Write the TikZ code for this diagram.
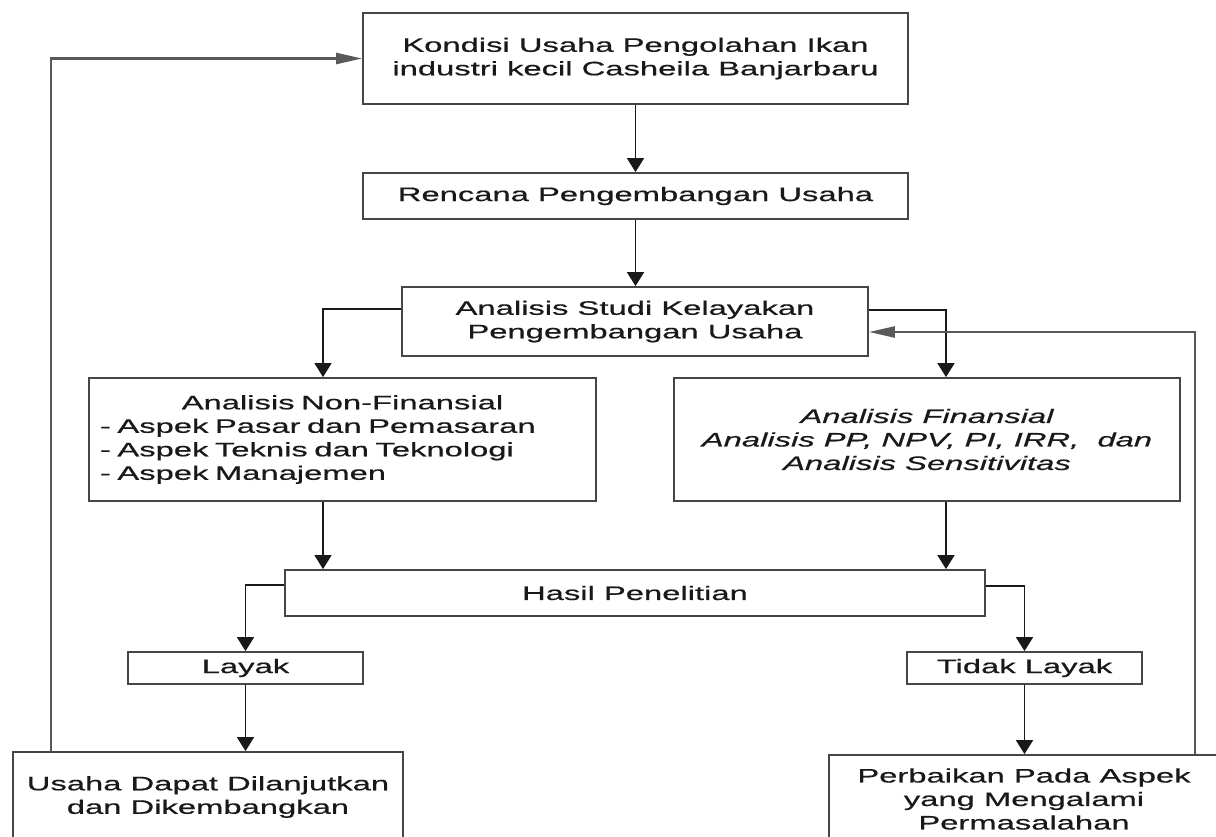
\documentclass[tikz,border=0pt]{standalone}
\usepackage{fontspec}
\newfontfamily\wide{Liberation Sans}[FakeStretch=1.68,FakeBold=0.6]
\usetikzlibrary{arrows.meta,calc}
\definecolor{boxline}{RGB}{70,70,70}
\definecolor{txt}{RGB}{25,25,25}
\tikzset{
 box/.style={draw=boxline, line width=1.8pt, fill=white, inner sep=0pt, align=center, text=txt},
 conn/.style={draw=black!90, line width=1.6pt},
 varr/.style={conn, -{Triangle[length=14pt,width=17pt]}},
 harr/.style={conn, -{Triangle[length=26pt,width=11pt]}},
 fbline/.style={draw=black!65, line width=2.4pt},
 fbarr/.style={fbline, -{Triangle[length=26pt,width=11pt]}}
}
\begin{document}
\begin{tikzpicture}[x=1pt,y=-1pt, font=\wide\fontsize{19.5}{23.5}\selectfont]
\useasboundingbox (0,0) rectangle (1216,836);
\clip (0,0) rectangle (1216,836);
\fill[white] (0,0) rectangle (1216,836);

\node[box, minimum width=545, minimum height=91] (top) at (635.5,58.5)
  {Kondisi Usaha Pengolahan Ikan\\industri kecil Casheila Banjarbaru};
\node[box, minimum width=545, minimum height=46] (ren) at (635.5,196)
  {Rencana Pengembangan Usaha};
\node[box, minimum width=466, minimum height=69] (studi) at (635,321.5)
  {Analisis Studi Kelayakan\\Pengembangan Usaha};
\node[box, minimum width=507, minimum height=123, text width=485, align=left] (nonfin) at (342.5,439.5)
  {\makebox[485pt]{Analisis Non-Finansial}\\- Aspek Pasar dan Pemasaran\\- Aspek Teknis dan Teknologi\\- Aspek Manajemen};
\node[box, minimum width=506, minimum height=123, font=\wide\itshape\fontsize{19.5}{23.5}\selectfont] (fin) at (927,439.5)
  {Analisis Finansial\\Analisis PP, NPV, PI, IRR, \ dan\\Analisis Sensitivitas};
\node[box, minimum width=700, minimum height=46] (hasil) at (635,593)
  {Hasil Penelitian};
\node[box, minimum width=235, minimum height=32] (layak) at (245.5,668)
  {Layak};
\node[box, minimum width=235, minimum height=32] (tidak) at (1024.5,668)
  {Tidak Layak};
\node[box, minimum width=390, minimum height=90] (usaha) at (208,797)
  {Usaha Dapat Dilanjutkan\\dan Dikembangkan};
\node[box, minimum width=390, minimum height=88] (perb) at (1024,799)
  {Perbaikan Pada Aspek\\yang Mengalami\\Permasalahan};

% main flow
\draw[varr] (top.south) -- (top.south |- ren.north);
\draw[varr] (ren.south) -- (ren.south |- studi.north);

\coordinate (sl) at ([yshift=12.5pt]studi.west);
\coordinate (sr) at ([yshift=11.5pt]studi.east);
\coordinate (nfin) at ([xshift=-19.5pt]nonfin.north);
\coordinate (fin_in) at ([xshift=19pt]fin.north);
\draw[varr] (sl) -| (nfin);
\draw[varr] (sr) -| (fin_in);

\coordinate (nfout) at ([xshift=-19.5pt]nonfin.south);
\coordinate (fout) at ([xshift=19pt]fin.south);
\draw[varr] (nfout) -- (nfout |- hasil.north);
\draw[varr] (fout) -- (fout |- hasil.north);

\coordinate (hl) at ([yshift=8pt]hasil.west);
\coordinate (hr) at ([yshift=7pt]hasil.east);
\draw[varr] (hl) -| (layak.north);
\draw[varr] (hr) -| (tidak.north);

\draw[varr] (layak.south) -- (layak.south |- usaha.north);
\draw[varr] (tidak.south) -- (tidak.south |- perb.north);

% feedback loops
\draw[fbarr] (usaha.north -| 51,0) |- (top.west);
\coordinate (sfb) at ([yshift=-10.5pt]studi.east);
\draw[fbarr] (perb.north -| 1195,0) |- (sfb);
\end{tikzpicture}
\end{document}
